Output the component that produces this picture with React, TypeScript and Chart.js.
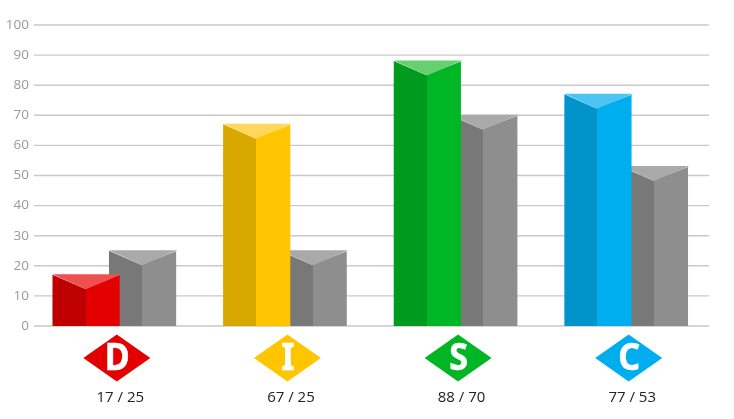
import React, { useEffect, useRef } from "react";
import { Chart, registerables } from "chart.js";

Chart.register(...registerables);

const letters = ["D", "I", "S", "C"];
const primaryValues = [17, 67, 88, 77];
const secondaryValues = [25, 25, 70, 53];
const scoreLabels = ["17 / 25", "67 / 25", "88 / 70", "77 / 53"];
const rightColors = ["#e30000", "#ffc600", "#00b624", "#00adef"];
const leftColors = ["#bf0000", "#d8a800", "#009a1e", "#0094ca"];
const topColors = ["#ee5050", "#ffd75c", "#66cf70", "#4cc5f3"];
const grayRight = "#8e8e8e";
const grayLeft = "#787878";
const grayTop = "#aaaaaa";

function drawPrism(ctx: CanvasRenderingContext2D, bar: any, left: string, right: string, top: string) {
  const x0 = bar.x - bar.width / 2;
  const x1 = bar.x + bar.width / 2;
  const mid = Math.round(bar.x - 0.5);
  const y = bar.y;
  const base = bar.base;
  const dip = 14.5;
  const poly = (pts: number[][], fill: string) => {
    ctx.beginPath();
    pts.forEach((p, i) => (i ? ctx.lineTo(p[0], p[1]) : ctx.moveTo(p[0], p[1])));
    ctx.closePath();
    ctx.fillStyle = fill;
    ctx.fill();
  };
  poly([[mid - 1, y + dip - 0.5], [x1, y + 0.5], [x1, base], [mid - 1, base]], right);
  poly([[x0, y], [mid, y + dip], [mid, base], [x0, base]], left);
  poly([[x0, y - 0.5], [x1 + 1.5, y - 0.5], [mid, y + dip]], top);
}

const decorPlugin = {
  id: "decor",
  beforeDatasetsDraw(chart: any) {
    const { ctx } = chart;
    const yScale = chart.scales.y;
    ctx.save();
    ctx.strokeStyle = "#c9c9c9";
    ctx.lineWidth = 1.4;
    yScale.ticks.forEach((t: any) => {
      const py = yScale.getPixelForValue(t.value);
      ctx.beginPath();
      ctx.moveTo(34, py);
      ctx.lineTo(709, py);
      ctx.stroke();
    });
    ctx.restore();
  },
  afterDatasetsDraw(chart: any) {
    const { ctx } = chart;
    const xScale = chart.scales.x;
    ctx.save();
    chart.getDatasetMeta(1).data.forEach((bar: any) => drawPrism(ctx, bar, grayLeft, grayRight, grayTop));
    chart.getDatasetMeta(0).data.forEach((bar: any, i: number) =>
      drawPrism(ctx, bar, leftColors[i], rightColors[i], topColors[i])
    );
    letters.forEach((letter, i) => {
      const cx = xScale.getPixelForValue(i) + 2.5;
      const cy = 358;
      ctx.beginPath();
      ctx.moveTo(cx - 33.5, cy);
      ctx.lineTo(cx, cy - 23.5);
      ctx.lineTo(cx + 33.5, cy);
      ctx.lineTo(cx, cy + 23.5);
      ctx.closePath();
      ctx.fillStyle = rightColors[i];
      ctx.fill();
      ctx.save();
      ctx.translate(cx + 0.5, cy + 1);
      ctx.scale(0.92, 1);
      ctx.fillStyle = "#ffffff";
      ctx.strokeStyle = "#ffffff";
      ctx.lineWidth = 0.6;
      ctx.font = 'bold 37px "Noto Sans"';
      ctx.textAlign = "center";
      ctx.textBaseline = "middle";
      ctx.fillText(letter, 0, 0);
      ctx.strokeText(letter, 0, 0);
      ctx.restore();
    });
    ctx.restore();
  },
};

export default function App() {
  const ref = useRef<HTMLCanvasElement>(null);
  useEffect(() => {
    document.body.style.margin = "0";
    const chart = new Chart(ref.current!, {
      type: "bar",
      data: {
        labels: scoreLabels,
        datasets: [
          { label: "Primary", data: primaryValues, backgroundColor: "transparent" },
          { label: "Secondary", data: secondaryValues, backgroundColor: "transparent" },
        ],
      },
      options: {
        animation: false,
        responsive: false,
        devicePixelRatio: 1,
        layout: { padding: { top: 25, right: 22.5, bottom: 0, left: 0 } },
        datasets: { bar: { categoryPercentage: 0.662, barPercentage: 1.19 } },
        plugins: { legend: { display: false }, tooltip: { enabled: false } },
        scales: {
          x: {
            grid: { display: false, drawTicks: false },
            border: { display: false },
            afterFit: (s: any) => {
              s.height = 93;
            },
            ticks: {
              color: "#222222",
              font: { family: "Open Sans", size: 15 },
              padding: 63,
              labelOffset: 6,
              maxRotation: 0,
              autoSkip: false,
            },
          },
          y: {
            min: 0,
            max: 100,
            grid: { display: false, drawTicks: false },
            border: { display: false },
            afterFit: (s: any) => {
              s.width = 29;
            },
            ticks: {
              stepSize: 10,
              padding: 0,
              color: "#999999",
              font: { family: "Open Sans", size: 13.5 },
            },
          },
        },
      } as any,
      plugins: [decorPlugin],
    });
    return () => chart.destroy();
  }, []);
  return <canvas ref={ref} width={734} height={419} style={{ display: "block" }} />;
}
